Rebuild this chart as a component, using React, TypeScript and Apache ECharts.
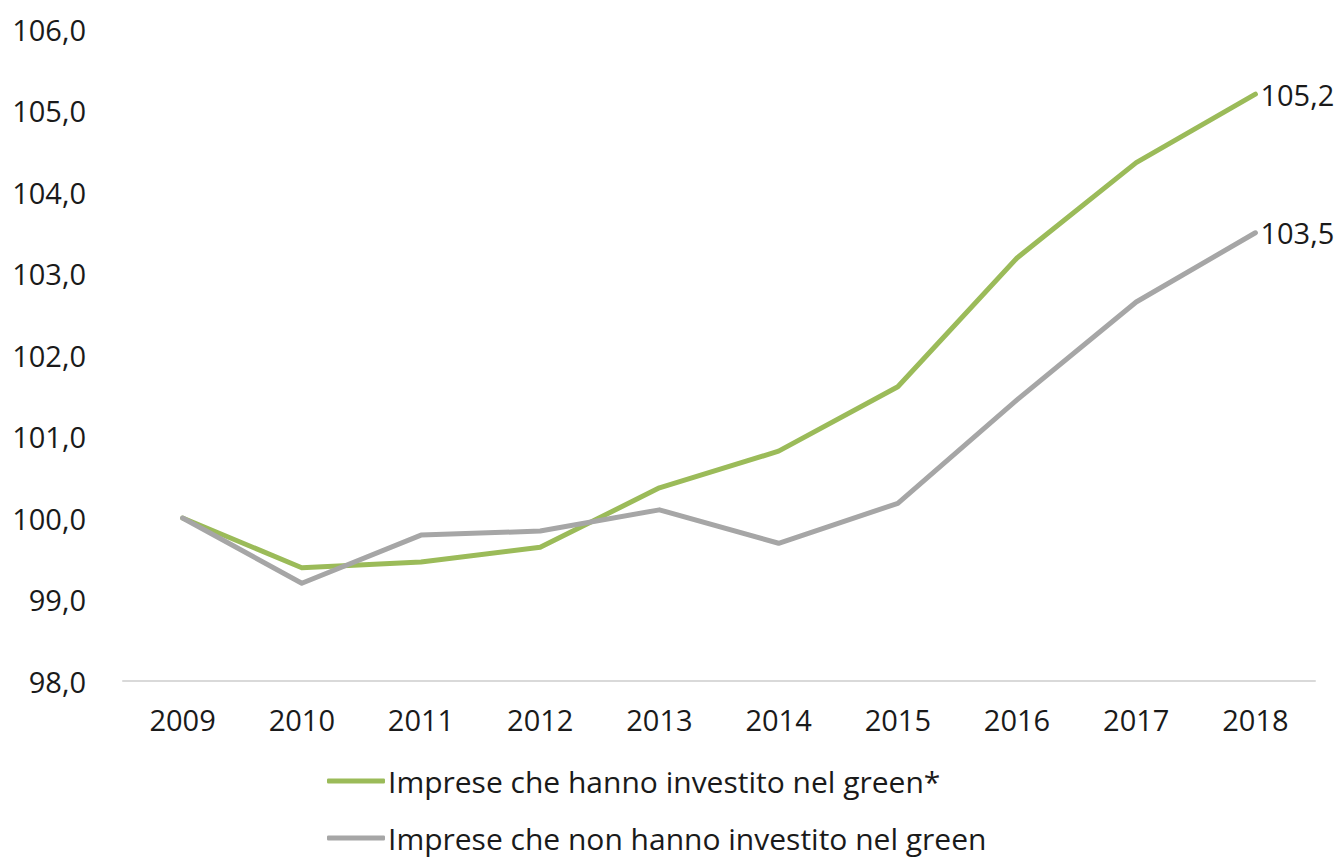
import React, { useEffect, useRef } from "react";
import * as echarts from "echarts";

const years = ["2009", "2010", "2011", "2012", "2013", "2014", "2015", "2016", "2017", "2018"];
const greenName = "Imprese che hanno investito nel green*";
const grayName = "Imprese che non hanno investito nel green";
const greenValues = [100.0, 99.39, 99.46, 99.64, 100.37, 100.82, 101.61, 103.19, 104.36, 105.2];
const grayValues = [100.0, 99.2, 99.79, 99.84, 100.1, 99.69, 100.18, 101.45, 102.65, 103.5];

const fmt = (v: number) => v.toFixed(1).replace(".", ",");
const FONT = "'Open Sans', 'Noto Sans', sans-serif";
const TXT = "#1a1a1a";

const legendBase = {
  left: 327,
  padding: 0,
  itemWidth: 58,
  itemHeight: 5,
  icon: "roundRect",
  textStyle: { fontSize: 30, color: TXT, fontFamily: FONT, padding: [0, 0, 0, -2] },
};

export default function App() {
  const ref = useRef<HTMLDivElement>(null);
  useEffect(() => {
    if (!ref.current) return;
    const chart = echarts.init(ref.current, null, { renderer: "svg" });
    chart.setOption({
      animation: false,
      backgroundColor: "#ffffff",
      textStyle: { fontFamily: FONT },
      grid: { left: 123, right: 27, top: 29, bottom: 176, containLabel: false },
      legend: [
        { ...legendBase, top: 766, data: [greenName] },
        { ...legendBase, top: 823, data: [grayName] },
      ],
      xAxis: {
        type: "category",
        data: years,
        boundaryGap: true,
        axisLine: { lineStyle: { color: "#d9d9d9", width: 2 } },
        axisTick: { show: false },
        axisLabel: { fontSize: 29, color: TXT, margin: 24, fontFamily: FONT },
      },
      yAxis: {
        type: "value",
        min: 98,
        max: 106,
        interval: 1,
        axisLine: { show: false },
        axisTick: { show: false },
        splitLine: { show: false },
        axisLabel: { fontSize: 29, color: TXT, margin: 37, fontFamily: FONT, formatter: (v: number) => fmt(v) },
      },
      series: [
        {
          name: greenName,
          type: "line",
          data: greenValues,
          color: "#9bbb59",
          symbol: "none",
          lineStyle: { width: 5, color: "#9bbb59", cap: "round", join: "round" },
          endLabel: { show: true, formatter: (p: any) => fmt(p.value), fontSize: 29, color: TXT, distance: 5, fontFamily: FONT },
        },
        {
          name: grayName,
          type: "line",
          data: grayValues,
          color: "#a6a6a6",
          symbol: "none",
          lineStyle: { width: 5, color: "#a6a6a6", cap: "round", join: "round" },
          endLabel: { show: true, formatter: (p: any) => fmt(p.value), fontSize: 29, color: TXT, distance: 5, fontFamily: FONT },
        },
      ],
    });
    return () => chart.dispose();
  }, []);
  return <div ref={ref} style={{ position: "fixed", left: 0, top: 0, width: 1342, height: 857 }} />;
}
